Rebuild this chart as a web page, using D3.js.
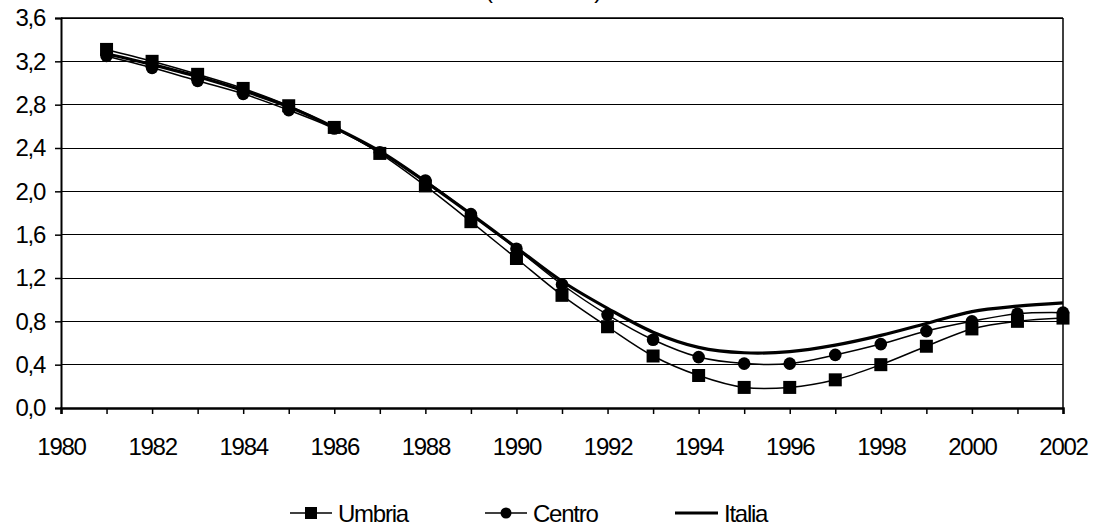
<!DOCTYPE html>
<html><head><meta charset="utf-8">
<script src="https://cdn.jsdelivr.net/npm/d3@7"></script>
<style>body{margin:0;background:#fff}svg text{font-family:"Liberation Sans",Arial,sans-serif;fill:#000}</style>
</head><body><svg id="c" width="1098" height="530"></svg>
<script>
const years = [1981,1982,1983,1984,1985,1986,1987,1988,1989,1990,1991,1992,1993,1994,1995,1996,1997,1998,1999,2000,2001,2002];
const umbria = [3.31,3.20,3.08,2.95,2.79,2.59,2.35,2.05,1.72,1.38,1.04,0.75,0.48,0.30,0.19,0.19,0.26,0.40,0.57,0.73,0.80,0.83];
const centro = [3.25,3.14,3.02,2.90,2.75,2.58,2.36,2.10,1.79,1.47,1.14,0.86,0.63,0.47,0.41,0.41,0.49,0.59,0.71,0.80,0.87,0.88];
const italia = [3.27,3.17,3.06,2.93,2.78,2.59,2.37,2.09,1.79,1.48,1.17,0.92,0.70,0.56,0.51,0.52,0.58,0.67,0.78,0.89,0.94,0.97];
const yTicks = [0,0.4,0.8,1.2,1.6,2.0,2.4,2.8,3.2,3.6];
const xLabelYears = [1980,1982,1984,1986,1988,1990,1992,1994,1996,1998,2000,2002];
const seriesNames = ["Umbria","Centro","Italia"];
const titleText = "(valori medi)";

const svg = d3.select("#c");
const L=61,R=1063,T=18,B=408;
const FS="24px", LS="-1.25px";
const x = d3.scaleLinear().domain([1980,2002]).range([L,R]);
const y = d3.scaleLinear().domain([0,3.6]).range([B,T]);
const fmt = v => d3.format(".1f")(v).replace(".",",");

svg.append("text").attr("x",543).attr("y",-2.5).attr("text-anchor","middle")
  .style("font-size",FS).style("letter-spacing",LS).text(titleText);

// gridlines
svg.append("g").selectAll("line").data(yTicks.filter(v=>v>0)).join("line")
  .attr("x1",L).attr("x2",R).attr("y1",d=>y(d)).attr("y2",d=>y(d))
  .attr("stroke","#000").attr("stroke-width",1).attr("shape-rendering","crispEdges");
svg.append("line").attr("x1",R).attr("x2",R).attr("y1",T).attr("y2",B).attr("stroke","#000").attr("stroke-width",1.5);
svg.append("line").attr("x1",L).attr("x2",R).attr("y1",T).attr("y2",T).attr("stroke","#000").attr("stroke-width",1.5);

// axes
const yAxis = d3.axisLeft(y).tickValues(yTicks).tickFormat(fmt).tickSize(6).tickPadding(10);
const gy = svg.append("g").attr("transform",`translate(${L},0)`).call(yAxis);
gy.select(".domain").attr("stroke-width",2);
gy.selectAll("text").style("font-size",FS).style("letter-spacing",LS).style("font-family","Liberation Sans, Arial, sans-serif");
gy.selectAll(".tick line").attr("stroke-width",1.5);

const xAxis = d3.axisBottom(x).tickValues(d3.range(1980,2003)).tickSize(6).tickPadding(24)
  .tickFormat(d => xLabelYears.includes(d) ? String(d) : "");
const gx = svg.append("g").attr("transform",`translate(0,${B})`).call(xAxis);
gx.select(".domain").attr("stroke-width",2.5);
gx.selectAll("text").style("font-size",FS).style("letter-spacing",LS).style("font-family","Liberation Sans, Arial, sans-serif");
gx.selectAll(".tick line").attr("stroke-width",1.5);

const line = d3.line().x((d,i)=>x(years[i])).y(d=>y(d)).curve(d3.curveCatmullRom.alpha(0.5));

svg.append("path").datum(umbria).attr("d",line).attr("fill","none").attr("stroke","#000").attr("stroke-width",1.5);
svg.append("path").datum(centro).attr("d",line).attr("fill","none").attr("stroke","#000").attr("stroke-width",1.5);
svg.append("path").datum(italia).attr("d",line).attr("fill","none").attr("stroke","#000").attr("stroke-width",3.2);

svg.append("g").selectAll("rect").data(umbria).join("rect")
  .attr("x",(d,i)=>x(years[i])-6.5).attr("y",d=>y(d)-6.5).attr("width",13).attr("height",13).attr("fill","#000");
svg.append("g").selectAll("circle").data(centro).join("circle")
  .attr("cx",(d,i)=>x(years[i])).attr("cy",d=>y(d)).attr("r",6.3).attr("fill","#000");

// legend
const lg = svg.append("g");
const ly = 513;
const items = [{x0:290,x1:332,tx:338,m:"rect"},{x0:485,x1:527,tx:533,m:"circle"},{x0:675,x1:718,tx:724,m:null}];
items.forEach((it,k)=>{
  lg.append("line").attr("x1",it.x0).attr("x2",it.x1).attr("y1",ly).attr("y2",ly).attr("stroke","#000").attr("stroke-width",k===2?3:1.5);
  const cx=(it.x0+it.x1)/2;
  if(it.m==="rect") lg.append("rect").attr("x",cx-6).attr("y",ly-6).attr("width",12).attr("height",12).attr("fill","#000");
  if(it.m==="circle") lg.append("circle").attr("cx",cx).attr("cy",ly).attr("r",5.5).attr("fill","#000");
  lg.append("text").attr("x",it.tx).attr("y",ly+8.5).style("font-size",FS).style("letter-spacing",LS).text(seriesNames[k]);
});
</script></body></html>
